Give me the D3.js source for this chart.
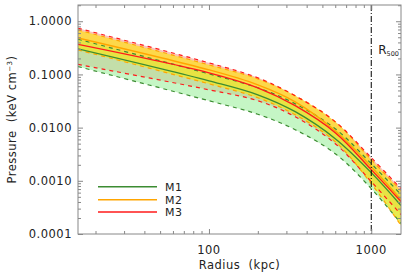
<!DOCTYPE html>
<html>
<head>
<meta charset="utf-8">
<script src="https://cdn.jsdelivr.net/npm/d3@7"></script>
<style>
	body { margin: 0; background: #fff; }
	svg text { font-family: "DejaVu Sans", sans-serif; fill: #222; }
</style>
</head>
<body>
<svg id="chart" width="407" height="279"></svg>
<script>
const radius = [15.6, 100, 200, 340, 600, 1000, 1525];

// M1
const m1Mid = [0.302, 0.0758, 0.0414, 0.0199, 0.00619, 0.001425, 0.000343];
const m1Hi  = [0.459, 0.1026, 0.0561, 0.0281, 0.00954, 0.002102, 0.000551];
const m1Lo  = [0.1407, 0.032, 0.01784, 0.00913, 0.003238, 0.000714, 0.0001574];
// M2
const m2Mid = [0.486, 0.122, 0.0638, 0.0306, 0.00875, 0.001846, 0.000444];
const m2Hi  = [0.687, 0.1514, 0.0827, 0.0397, 0.0129, 0.002498, 0.000655];
const m2Lo  = [0.2894, 0.0666, 0.0364, 0.01746, 0.00544, 0.000886, 0.0001443];
// M3
const m3Mid = [0.367, 0.1072, 0.0561, 0.0258, 0.00802, 0.001622, 0.000407];
const m3Hi  = [0.739, 0.1651, 0.0864, 0.0397, 0.0129, 0.002724, 0.000714];
const m3Lo  = [0.1547, 0.0514, 0.032, 0.01602, 0.00499, 0.000966, 0.000232];

const seriesNames = ["M1", "M2", "M3"];
const r500 = 1000;

const xMajor = [100, 1000];
const yMajor = [0.0001, 0.001, 0.01, 0.1, 1];
const yLabels = ["0.0001", "0.0010", "0.0100", "0.1000", "1.0000"];

const margin = { left: 78, right: 6, top: 5, bottom: 45 };
const W = 407, H = 279;

const svg = d3.select("#chart");

let x = d3.scaleLog().domain([15.6, 1525]).range([margin.left, W - margin.right]);
let y = d3.scaleLog().domain([0.0001, 2.02]).range([H - margin.bottom, margin.top]);

svg.append("clipPath").attr("id", "clip")
	.append("rect")
	.attr("x", margin.left).attr("y", margin.top)
	.attr("width", W - margin.left - margin.right)
	.attr("height", H - margin.top - margin.bottom);

const plot = svg.append("g").attr("clip-path", "url(#clip)");

const styles = {
	M1: { line: "#3c8c32", fill: "#9ef09e", op: 0.6 },
	M2: { line: "#ffa500", fill: "#ffe600", op: 0.6 },
	M3: { line: "#ff1a1a", fill: "#f9a89a", op: 0.7 }
};

const bands = {
	M1: { mid: m1Mid, hi: m1Hi, lo: m1Lo },
	M2: { mid: m2Mid, hi: m2Hi, lo: m2Lo },
	M3: { mid: m3Mid, hi: m3Hi, lo: m3Lo }
};

const curve = d3.curveCatmullRom.alpha(0.5);

const area = d3.area()
	.x(d => x(d.r))
	.y0(d => y(d.lo))
	.y1(d => y(d.hi))
	.curve(curve);

const line = d3.line()
	.x(d => x(d.r))
	.y(d => y(d.v))
	.curve(curve);

// fills: M3 first, then M1, then M2 on top
["M3", "M1", "M2"].forEach(function(name) {
	let b = bands[name];
	let pts = radius.map((r, i) => ({ r: r, lo: b.lo[i], hi: b.hi[i] }));
	plot.append("path")
		.datum(pts)
		.attr("d", area)
		.attr("fill", styles[name].fill)
		.attr("fill-opacity", styles[name].op);
});

// dashed bounds and central lines
["M1", "M2", "M3"].forEach(function(name) {
	let b = bands[name];
	["hi", "lo"].forEach(function(k) {
		plot.append("path")
			.datum(radius.map((r, i) => ({ r: r, v: b[k][i] })))
			.attr("d", line)
			.attr("fill", "none")
			.attr("stroke", styles[name].line)
			.attr("stroke-width", 1.2)
			.attr("stroke-dasharray", "4,4");
	});
});
["M1", "M2", "M3"].forEach(function(name) {
	plot.append("path")
		.datum(radius.map((r, i) => ({ r: r, v: bands[name].mid[i] })))
		.attr("d", line)
		.attr("fill", "none")
		.attr("stroke", styles[name].line)
		.attr("stroke-width", 1.4);
});

// R500 marker
svg.append("line")
	.attr("x1", x(r500)).attr("x2", x(r500))
	.attr("y1", y.range()[1]).attr("y2", y.range()[0])
	.attr("stroke", "#000")
	.attr("stroke-width", 1)
	.attr("stroke-dasharray", "6,2,1,2");

let rl = svg.append("text")
	.attr("x", x(r500) + 7)
	.attr("y", 54)
	.style("font-size", "12px");
rl.append("tspan").text("R");
rl.append("tspan").attr("dy", 2).style("font-size", "6.5px").text("500");

// axes
const xMinor = [];
[10, 100, 1000].forEach(function(d) {
	for (let k = 2; k <= 9; k++) {
		let v = d * k;
		if (v > x.domain()[0] && v < x.domain()[1]) xMinor.push(v);
	}
});
const yMinor = [];
yMajor.forEach(function(d) {
	for (let k = 2; k <= 9; k++) {
		let v = d * k;
		if (v < y.domain()[1]) yMinor.push(v);
	}
});

const axisCol = "#888";

function drawAxis(gen, transform, vals, size) {
	let g = svg.append("g")
		.attr("transform", transform)
		.call(gen.tickValues(vals).tickSize(size).tickFormat(""));
	g.select(".domain").remove();
	g.selectAll("line").attr("stroke", axisCol);
	return g;
}

let bottomY = y.range()[0], topY = y.range()[1];
let leftX = x.range()[0], rightX = x.range()[1];

drawAxis(d3.axisBottom(x), `translate(0,${bottomY})`, xMajor, -5);
drawAxis(d3.axisBottom(x), `translate(0,${bottomY})`, xMinor, -3);
drawAxis(d3.axisTop(x), `translate(0,${topY})`, xMajor, -5);
drawAxis(d3.axisTop(x), `translate(0,${topY})`, xMinor, -3);
drawAxis(d3.axisLeft(y), `translate(${leftX},0)`, yMajor, -5);
drawAxis(d3.axisLeft(y), `translate(${leftX},0)`, yMinor, -3);
drawAxis(d3.axisRight(y), `translate(${rightX},0)`, yMajor, -5);
drawAxis(d3.axisRight(y), `translate(${rightX},0)`, yMinor, -3);

svg.append("rect")
	.attr("x", leftX).attr("y", topY)
	.attr("width", rightX - leftX).attr("height", bottomY - topY)
	.attr("fill", "none")
	.attr("stroke", axisCol)
	.attr("stroke-width", 1);

// tick labels
svg.selectAll(".xlab")
	.data(xMajor)
	.enter()
	.append("text")
		.attr("x", d => x(d))
		.attr("y", 254)
		.attr("text-anchor", "middle")
		.style("font-size", "11.5px")
		.style("letter-spacing", "0.5px")
		.text(d => d);

svg.selectAll(".ylab")
	.data(yMajor)
	.enter()
	.append("text")
		.attr("x", 72)
		.attr("y", d => y(d))
		.attr("dy", "0.36em")
		.attr("text-anchor", "end")
		.style("font-size", "11.5px")
		.style("letter-spacing", "0.5px")
		.text((d, i) => yLabels[i]);

svg.append("text")
	.attr("x", (leftX + rightX) / 2)
	.attr("y", 269)
	.attr("text-anchor", "middle")
	.style("font-size", "11.5px")
	.style("letter-spacing", "0.5px")
	.style("white-space", "pre")
	.text("Radius  (kpc)");

let yl = svg.append("text")
	.attr("transform", `translate(16,${(topY + bottomY) / 2}) rotate(-90)`)
	.attr("text-anchor", "middle")
	.style("font-size", "11.5px")
	.style("letter-spacing", "0.5px")
	.style("white-space", "pre");
yl.append("tspan").text("Pressure  (keV cm");
yl.append("tspan").attr("dy", -4).style("font-size", "7px").text("\u22123");
yl.append("tspan").attr("dy", 4).text(")");

// legend
const legY = [186.7, 199.7, 212];
seriesNames.forEach(function(name, i) {
	svg.append("line")
		.attr("x1", 98).attr("x2", 157)
		.attr("y1", legY[i]).attr("y2", legY[i])
		.attr("stroke", styles[name].line)
		.attr("stroke-width", 1.6);
	svg.append("text")
		.attr("x", 165)
		.attr("y", legY[i])
		.attr("dy", "0.36em")
		.style("font-size", "11px")
		.style("letter-spacing", "0.4px")
		.text(name);
});
</script>
</body>
</html>
